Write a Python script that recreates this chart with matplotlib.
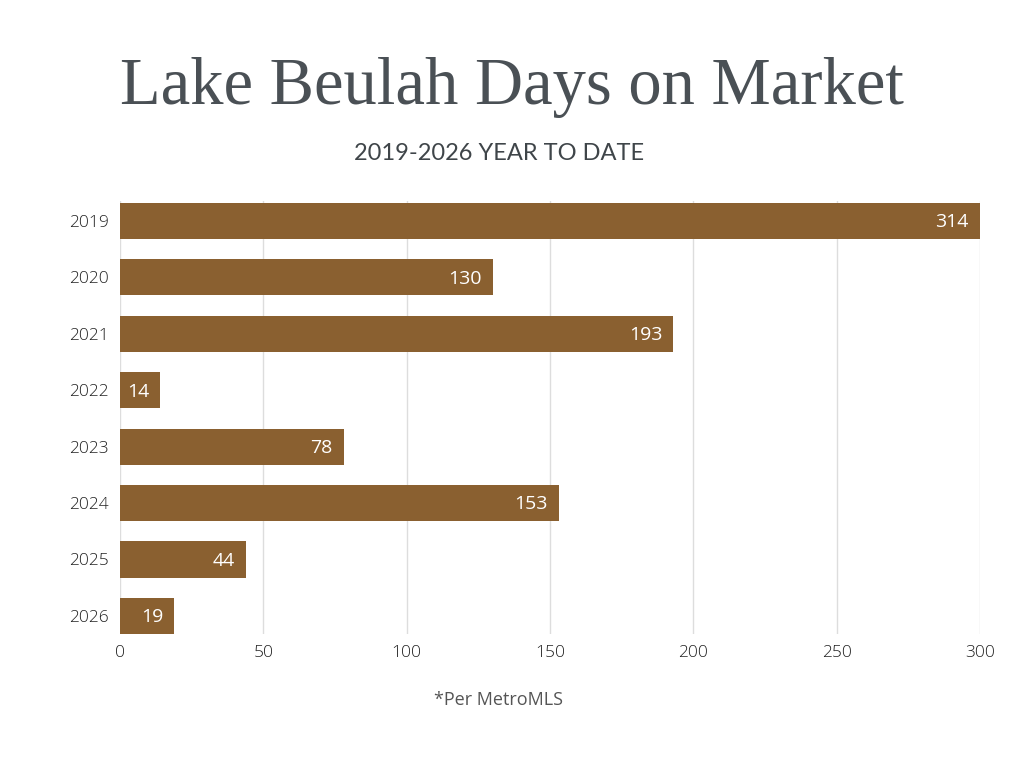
import matplotlib
matplotlib.use("Agg")
import matplotlib.pyplot as plt

years = ["2019", "2020", "2021", "2022", "2023", "2024", "2025", "2026"]
days = [314, 130, 193, 14, 78, 153, 44, 19]
x_ticks = [0, 50, 100, 150, 200, 250, 300]

bar_color = "#8A6030"
title = "Lake Beulah Days on Market"
subtitle = "2019-2026 YEAR TO DATE"
footer = "*Per MetroMLS"

fig = plt.figure(figsize=(10.24, 7.68), dpi=100)
fig.patch.set_facecolor("white")
ax = fig.add_axes([120/1024, 134/768, 860/1024, 433/768])

pos = list(range(len(years)))
ax.barh(pos, days, height=0.64, color=bar_color, zorder=3)
ax.set_xlim(0, 300)
ax.set_ylim(7.32, -0.35)
ax.set_yticks(pos)
ax.set_yticklabels(years)
ax.set_xticks(x_ticks)
ax.tick_params(length=0, labelsize=12.5, colors="#222222", pad=8)
for lab in ax.get_xticklabels() + ax.get_yticklabels():
    lab.set_fontfamily("Open Sans")
    lab.set_fontweight("light")
ax.xaxis.grid(True, color="#dddddd", linewidth=1, zorder=0)
for s in ax.spines.values():
    s.set_visible(False)

for p, v in zip(pos, days):
    xe = min(v, 300)
    ax.annotate(str(v), (xe, p), xytext=(-8, -1), textcoords="offset points",
                ha="right", va="center", color="white", fontsize=14,
                fontfamily="Open Sans", zorder=4)

fig.text(512/1024, 1 - 88/768, title, ha="center", va="center",
         fontsize=48, color="#4a5055", fontfamily="Liberation Serif")
fig.text(499/1024, 1 - 154/768, subtitle, ha="center", va="center",
         fontsize=17, color="#3f4549", fontfamily="Lato")
fig.text(498/1024, 1 - 700/768, footer, ha="center", va="center",
         fontsize=13, color="#555555", fontfamily="Open Sans")

fig.savefig("out.png", dpi=100)
